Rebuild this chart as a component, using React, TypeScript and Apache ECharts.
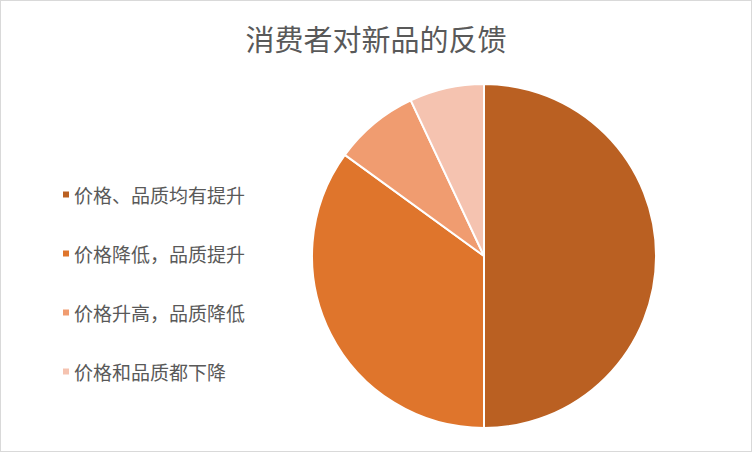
import { useEffect, useRef } from 'react';
import * as echarts from 'echarts';

// 图表数据
const categories = ['价格、品质均有提升', '价格降低，品质提升', '价格升高，品质降低', '价格和品质都下降'];
const values = [50, 35, 8, 7];
const colors = ['#BA6022', '#DF752C', '#F09C70', '#F5C3B0'];

const title = '消费者对新品的反馈';
const fontFamily = '"Noto Sans CJK SC", "Noto Sans", sans-serif';

export default function App() {
  const chartRef = useRef<HTMLDivElement>(null);

  useEffect(() => {
    if (!chartRef.current) return;
    const chart = echarts.init(chartRef.current, undefined, { renderer: 'svg' });

    const option: echarts.EChartsOption = {
      animation: false,
      backgroundColor: '#ffffff',
      color: colors,
      title: {
        text: title,
        left: 'center',
        top: 17,
        textStyle: {
          color: '#595959',
          fontSize: 29,
          fontWeight: 'normal',
          fontFamily,
        },
      },
      legend: {
        orient: 'vertical',
        left: 55,
        top: 179,
        itemWidth: 8,
        itemHeight: 8,
        itemGap: 40,
        icon: 'rect',
        textStyle: {
          color: '#595959',
          fontSize: 19,
          fontFamily,
          padding: [0, 0, 0, -1],
        },
        data: categories,
      },
      series: [
        {
          type: 'pie',
          center: [483, 255],
          radius: 172,
          startAngle: 90,
          clockwise: true,
          label: { show: false },
          labelLine: { show: false },
          itemStyle: {
            borderColor: '#ffffff',
            borderWidth: 2,
          },
          data: categories.map((name, i) => ({ name, value: values[i] })),
        },
      ],
    };

    chart.setOption(option);
    return () => {
      chart.dispose();
    };
  }, []);

  return (
    <div
      style={{
        position: 'fixed',
        left: 0,
        top: 0,
        width: 752,
        height: 452,
        boxSizing: 'border-box',
        border: '1px solid #D9D9D9',
        background: '#fff',
      }}
    >
      <div ref={chartRef} style={{ width: 750, height: 450 }} />
    </div>
  );
}
